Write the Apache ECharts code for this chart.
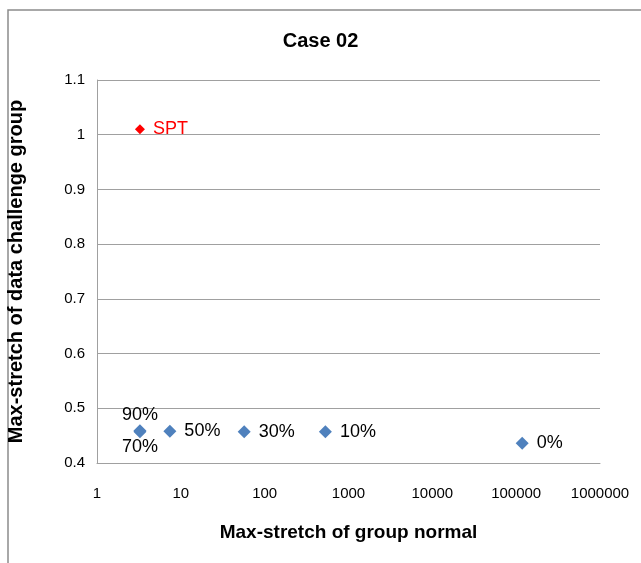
<!DOCTYPE html>
<html><head><meta charset="utf-8">
<script src="https://cdn.jsdelivr.net/npm/echarts@6/dist/echarts.min.js"></script>
<style>html,body{margin:0;padding:0;background:#fff}#c{width:641px;height:563px}</style>
</head><body><div id="c"></div>
<script>
const title = "Case 02";
const xName = "Max-stretch of group normal";
const yName = "Max-stretch of data challenge group";
const groupLabels = ["90%", "70%", "50%", "30%", "10%", "0%"];
const groupX = [3.25, 3.25, 7.4, 57, 530, 118000];
const groupY = [0.459, 0.457, 0.458, 0.457, 0.457, 0.436];
const sptLabel = ["SPT"];
const sptX = [3.25];
const sptY = [1.01];
const labelPos = ["top", "bottom", "right", "right", "right", "right"];

const font = "'Liberation Sans',sans-serif";
const chart = echarts.init(document.getElementById('c'));
chart.setOption({
  animation: false,
  graphic: [{type:'polyline', shape:{points:[[8,563],[8,10],[641,10]]}, style:{stroke:'#8c8c8c', lineWidth:1.5, fill:null}}],
  title: {text: title, left: 'center', top: 26, textStyle:{fontFamily: font, fontSize: 20, fontWeight:'bold', color:'#000'}},
  grid: {left: 97, right: 41, top: 80, bottom: 100, outerBoundsMode: 'none', containLabel: false},
  xAxis: {
    type: 'log', logBase: 10, min: 1, max: 1000000,
    name: xName, nameLocation: 'middle', nameGap: 60,
    nameTextStyle: {fontFamily: font, fontSize: 19, fontWeight:'bold', color:'#000'},
    axisLine: {show: true, lineStyle:{color:'#a0a0a0'}},
    axisTick: {show: false}, splitLine: {show: false},
    axisLabel: {fontFamily: font, fontSize: 15, color:'#000', margin: 23,
      formatter: v => String(Math.round(v))}
  },
  yAxis: {
    type: 'value', min: 0.4, max: 1.1, interval: 0.1,
    name: yName, nameLocation: 'middle', nameGap: 71,
    nameTextStyle: {fontFamily: font, fontSize: 20, fontWeight:'bold', color:'#000'},
    axisLine: {show: true, lineStyle:{color:'#a0a0a0'}},
    axisTick: {show: false},
    splitLine: {show: true, lineStyle:{color:'#a0a0a0'}},
    axisLabel: {fontFamily: font, fontSize: 15, color:'#000', margin: 12,
      formatter: v => String(Math.round(v*10)/10)}
  },
  series: [
    {type:'scatter', symbol:'diamond', symbolSize: 13,
     itemStyle:{color:'#4f81bd', opacity: 1},
     data: groupX.map((x,i)=>({value:[x, groupY[i]], name: groupLabels[i],
       label:{show:true, position: labelPos[i], distance: labelPos[i]==='right'?8:0}})),
     label:{formatter: p => p.name, fontFamily: font, fontSize: 18, color:'#000'}},
    {type:'scatter', symbol:'diamond', symbolSize: 10,
     itemStyle:{color:'#ff0000', opacity: 1},
     data: sptX.map((x,i)=>({value:[x, sptY[i]], name: sptLabel[i]})),
     label:{show:true, position:'right', distance: 8, formatter: p => p.name, fontFamily: font, fontSize: 18, color:'#ff0000'}}
  ]
});
</script></body></html>
